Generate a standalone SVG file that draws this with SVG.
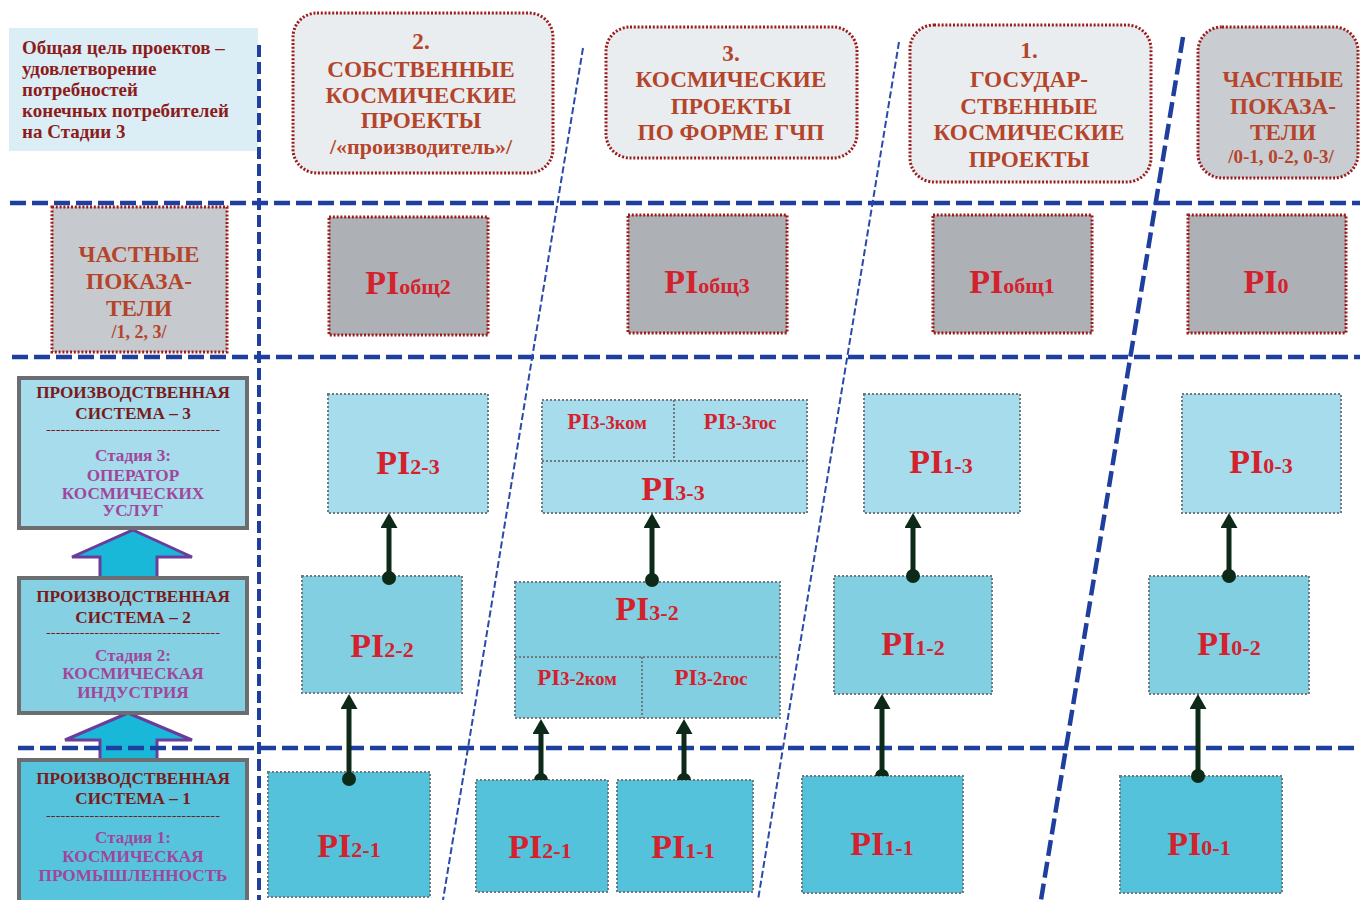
<svg xmlns="http://www.w3.org/2000/svg" width="1360" height="900" viewBox="0 0 1360 900">
  <style>
    text { font-family: "Liberation Serif", "Times New Roman", serif; font-weight: bold; }
    .goal { fill: #8c1c1c; font-size: 19px; }
    .hdr { fill: #b4452b; font-size: 23.2px; text-anchor: middle; }
    .hdr-s { fill: #b4452b; font-size: 19px; text-anchor: middle; }
    .sys { fill: #7a1a1a; font-size: 17.2px; text-anchor: middle; }
    .stage { fill: #a1469b; font-size: 17.2px; text-anchor: middle; }
    .sep { fill: #7a1a1a; font-size: 12px; font-weight: normal; }
    .pi { fill: #d3222e; text-anchor: middle; }
    .pi .big { font-size: 34px; }
    .pi .sub { font-size: 22px; }
    .pi .bigs { font-size: 23px; }
    .pi .subs { font-size: 18.5px; }
    .hbox { fill: #e9edf0; stroke: #9b1c1c; stroke-width: 3; stroke-dasharray: 2 1.8; }
    .hbox-g { fill: #c9ccd0; stroke: #9b1c1c; stroke-width: 3; stroke-dasharray: 2 1.8; }
    .gbox { fill: #adb1b6; stroke: #9b1c1c; stroke-width: 3; stroke-dasharray: 2 1.8; }
    .gbox-l { fill: #c6cacf; stroke: #9b1c1c; stroke-width: 3; stroke-dasharray: 2 1.8; }
    .r3 { fill: #a7dcec; stroke: #6f7a80; stroke-width: 2; stroke-dasharray: 2 2; }
    .r2 { fill: #82cfe2; stroke: #6f7a80; stroke-width: 2; stroke-dasharray: 2 2; }
    .r1 { fill: #53c2da; stroke: #6f7a80; stroke-width: 2; stroke-dasharray: 2 2; }
    .split { fill: none; stroke: #6f7a80; stroke-width: 2; stroke-dasharray: 2 2; }
    .sys3 { fill: #a6dcec; stroke: #6b6d70; stroke-width: 4; }
    .sys2 { fill: #85d0e3; stroke: #6b6d70; stroke-width: 4; }
    .sys1 { fill: #55c4dc; stroke: #6b6d70; stroke-width: 4; }
    .block { fill: #1ab8d8; stroke: #6a3c9c; stroke-width: 3; stroke-linejoin: miter; }
    .grid { stroke: #1f3f9f; stroke-width: 4.5; stroke-dasharray: 16 6; fill: none; }
    .gridv { stroke: #1f3f9f; stroke-width: 4; stroke-dasharray: 12 5; fill: none; }
    .thin { stroke: #2a4aaa; stroke-width: 2; stroke-dasharray: 7 3; fill: none; }
    .link { stroke: #0d2a18; stroke-width: 5; fill: none; marker-end: url(#head); }
    .dot { fill: #0d2a18; }
  </style>
  <defs>
    <marker id="head" viewBox="0 0 15 17" refX="0" refY="8.5" markerWidth="15" markerHeight="17" markerUnits="userSpaceOnUse" orient="auto">
      <path d="M0,0 L15,8.5 L0,17 Z" fill="#0d2a18"/>
    </marker>
  </defs>

  <rect width="1360" height="900" fill="#ffffff"/>

  <!-- goal note -->
  <g id="goal">
    <rect x="9" y="28" width="249" height="123" fill="#dbeef5"/>
    <text class="goal" x="22" y="54">Общая цель проектов –</text>
    <text class="goal" x="22" y="75">удовлетворение</text>
    <text class="goal" x="22" y="96">потребностей</text>
    <text class="goal" x="22" y="117">конечных потребителей</text>
    <text class="goal" x="22" y="138">на Стадии 3</text>
  </g>

  <!-- column headers -->
  <g id="hdr-own">
    <rect class="hbox" x="293" y="13" width="260" height="160" rx="24"/>
    <text class="hdr" x="421" y="49">2.</text>
    <text class="hdr" x="421" y="77">СОБСТВЕННЫЕ</text>
    <text class="hdr" x="421" y="103">КОСМИЧЕСКИЕ</text>
    <text class="hdr" x="421" y="128">ПРОЕКТЫ</text>
    <text class="hdr" x="421" y="154" style="font-size:22px">/«производитель»/</text>
  </g>
  <g id="hdr-ppp">
    <rect class="hbox" x="606" y="27" width="251" height="131" rx="24"/>
    <text class="hdr" x="731" y="61">3.</text>
    <text class="hdr" x="731" y="87">КОСМИЧЕСКИЕ</text>
    <text class="hdr" x="731" y="114">ПРОЕКТЫ</text>
    <text class="hdr" x="731" y="140">ПО ФОРМЕ ГЧП</text>
  </g>
  <g id="hdr-state">
    <rect class="hbox" x="910" y="25" width="241" height="157" rx="24"/>
    <text class="hdr" x="1029" y="58">1.</text>
    <text class="hdr" x="1029" y="87">ГОСУДАР-</text>
    <text class="hdr" x="1029" y="114">СТВЕННЫЕ</text>
    <text class="hdr" x="1029" y="140">КОСМИЧЕСКИЕ</text>
    <text class="hdr" x="1029" y="167">ПРОЕКТЫ</text>
  </g>
  <g id="hdr-partial">
    <rect class="hbox-g" x="1198" y="27" width="160" height="151" rx="24"/>
    <text class="hdr" x="1283" y="87">ЧАСТНЫЕ</text>
    <text class="hdr" x="1283" y="114">ПОКАЗА-</text>
    <text class="hdr" x="1283" y="140">ТЕЛИ</text>
    <text class="hdr-s" x="1281" y="163">/0-1, 0-2, 0-3/</text>
  </g>

  <!-- aggregate indicators row -->
  <g id="partial-left">
    <rect class="gbox-l" x="52" y="207" width="175" height="145"/>
    <text class="hdr" x="139" y="262">ЧАСТНЫЕ</text>
    <text class="hdr" x="139" y="289">ПОКАЗА-</text>
    <text class="hdr" x="139" y="316">ТЕЛИ</text>
    <text class="hdr-s" x="139" y="338" style="font-size:18px">/1, 2, 3/</text>
  </g>
  <g id="pi-obsh2">
    <rect class="gbox" x="329" y="217" width="159" height="118"/>
    <text class="pi" x="408" y="294"><tspan class="big">PI</tspan><tspan class="sub">общ2</tspan></text>
  </g>
  <g id="pi-obsh3">
    <rect class="gbox" x="628" y="215" width="159" height="118"/>
    <text class="pi" x="707" y="293"><tspan class="big">PI</tspan><tspan class="sub">общ3</tspan></text>
  </g>
  <g id="pi-obsh1">
    <rect class="gbox" x="933" y="215" width="159" height="118"/>
    <text class="pi" x="1012" y="293"><tspan class="big">PI</tspan><tspan class="sub">общ1</tspan></text>
  </g>
  <g id="pi-0">
    <rect class="gbox" x="1188" y="215" width="158" height="118"/>
    <text class="pi" x="1266" y="293"><tspan class="big">PI</tspan><tspan class="sub">0</tspan></text>
  </g>

  <!-- production systems column -->
  <g id="sys-arrows">
    <path class="block" d="M133,530 L192,557 L157,557 L157,582 L100,582 L100,557 L72,557 Z"/>
    <path class="block" d="M128,713 L192,740 L157,740 L157,764 L100,764 L100,740 L65,740 Z"/>
  </g>
  <g id="sys-3">
    <rect class="sys3" x="19" y="378" width="228" height="150"/>
    <text class="sys" x="133" y="398">ПРОИЗВОДСТВЕННАЯ</text>
    <text class="sys" x="133" y="419">СИСТЕМА –  3</text>
    <text class="sep" x="46" y="434" textLength="174" lengthAdjust="spacingAndGlyphs">------------------------------------</text>
    <text class="stage" x="133" y="461">Стадия 3:</text>
    <text class="stage" x="133" y="481">ОПЕРАТОР</text>
    <text class="stage" x="133" y="499">КОСМИЧЕСКИХ</text>
    <text class="stage" x="133" y="516">УСЛУГ</text>
  </g>
  <g id="sys-2">
    <rect class="sys2" x="19" y="578" width="228" height="135"/>
    <text class="sys" x="133" y="602">ПРОИЗВОДСТВЕННАЯ</text>
    <text class="sys" x="133" y="623">СИСТЕМА –  2</text>
    <text class="sep" x="46" y="637" textLength="174" lengthAdjust="spacingAndGlyphs">------------------------------------</text>
    <text class="stage" x="133" y="661">Стадия 2:</text>
    <text class="stage" x="133" y="679">КОСМИЧЕСКАЯ</text>
    <text class="stage" x="133" y="698">ИНДУСТРИЯ</text>
  </g>
  <g id="sys-1">
    <rect class="sys1" x="19" y="760" width="228" height="150"/>
    <text class="sys" x="133" y="784">ПРОИЗВОДСТВЕННАЯ</text>
    <text class="sys" x="133" y="804">СИСТЕМА –  1</text>
    <text class="sep" x="46" y="820" textLength="174" lengthAdjust="spacingAndGlyphs">------------------------------------</text>
    <text class="stage" x="133" y="843">Стадия 1:</text>
    <text class="stage" x="133" y="862">КОСМИЧЕСКАЯ</text>
    <text class="stage" x="133" y="881">ПРОМЫШЛЕННОСТЬ</text>
  </g>

  <!-- own projects column -->
  <g id="pi-2-3">
    <rect class="r3" x="328" y="394" width="160" height="119"/>
    <text class="pi" x="408" y="474"><tspan class="big">PI</tspan><tspan class="sub">2-3</tspan></text>
  </g>
  <g id="pi-2-2">
    <rect class="r2" x="302" y="576" width="160" height="117"/>
    <text class="pi" x="382" y="657"><tspan class="big">PI</tspan><tspan class="sub">2-2</tspan></text>
  </g>
  <g id="pi-2-1">
    <rect class="r1" x="268" y="772" width="162" height="125"/>
    <text class="pi" x="349" y="857"><tspan class="big">PI</tspan><tspan class="sub">2-1</tspan></text>
  </g>

  <!-- PPP projects column -->
  <g id="pi-3-3">
    <rect class="r3" x="542" y="400" width="265" height="113"/>
    <path class="split" d="M542,461 H807 M674,400 V461"/>
    <text class="pi" x="607" y="429"><tspan class="bigs">PI</tspan><tspan class="subs">3-3ком</tspan></text>
    <text class="pi" x="740" y="429"><tspan class="bigs">PI</tspan><tspan class="subs">3-3гос</tspan></text>
    <text class="pi" x="673" y="500"><tspan class="big">PI</tspan><tspan class="sub">3-3</tspan></text>
  </g>
  <g id="pi-3-2">
    <rect class="r2" x="515" y="582" width="265" height="136"/>
    <path class="split" d="M515,657 H780 M642,657 V718"/>
    <text class="pi" x="647" y="620"><tspan class="big">PI</tspan><tspan class="sub">3-2</tspan></text>
    <text class="pi" x="577" y="685"><tspan class="bigs">PI</tspan><tspan class="subs">3-2ком</tspan></text>
    <text class="pi" x="711" y="685"><tspan class="bigs">PI</tspan><tspan class="subs">3-2гос</tspan></text>
  </g>
  <g id="pi-2-1-ppp">
    <rect class="r1" x="476" y="780" width="132" height="112"/>
    <text class="pi" x="540" y="858"><tspan class="big">PI</tspan><tspan class="sub">2-1</tspan></text>
  </g>
  <g id="pi-1-1-ppp">
    <rect class="r1" x="617" y="780" width="136" height="112"/>
    <text class="pi" x="683" y="858"><tspan class="big">PI</tspan><tspan class="sub">1-1</tspan></text>
  </g>

  <!-- state projects column -->
  <g id="pi-1-3">
    <rect class="r3" x="864" y="394" width="156" height="119"/>
    <text class="pi" x="941" y="473"><tspan class="big">PI</tspan><tspan class="sub">1-3</tspan></text>
  </g>
  <g id="pi-1-2">
    <rect class="r2" x="834" y="576" width="158" height="118"/>
    <text class="pi" x="913" y="655"><tspan class="big">PI</tspan><tspan class="sub">1-2</tspan></text>
  </g>
  <g id="pi-1-1">
    <rect class="r1" x="802" y="776" width="161" height="117"/>
    <text class="pi" x="882" y="855"><tspan class="big">PI</tspan><tspan class="sub">1-1</tspan></text>
  </g>

  <!-- partial indicators column -->
  <g id="pi-0-3">
    <rect class="r3" x="1182" y="394" width="159" height="119"/>
    <text class="pi" x="1261" y="473"><tspan class="big">PI</tspan><tspan class="sub">0-3</tspan></text>
  </g>
  <g id="pi-0-2">
    <rect class="r2" x="1149" y="576" width="160" height="118"/>
    <text class="pi" x="1229" y="655"><tspan class="big">PI</tspan><tspan class="sub">0-2</tspan></text>
  </g>
  <g id="pi-0-1">
    <rect class="r1" x="1120" y="776" width="162" height="117"/>
    <text class="pi" x="1199" y="855"><tspan class="big">PI</tspan><tspan class="sub">0-1</tspan></text>
  </g>

  <!-- zone boundaries -->
  <g id="grid">
    <line class="grid" x1="10" y1="203" x2="1360" y2="203"/>
    <line class="grid" x1="12" y1="357" x2="1360" y2="357"/>
    <line class="grid" x1="18" y1="748" x2="1360" y2="748"/>
    <line class="gridv" x1="259" y1="45" x2="259" y2="900"/>
    <line class="thin" x1="583" y1="48" x2="443" y2="900"/>
    <line class="thin" x1="899" y1="42" x2="758" y2="900"/>
    <line class="grid" x1="1183" y1="37" x2="1041" y2="900"/>
  </g>

  <!-- connectors -->
  <g id="connectors">
    <line class="link" x1="349" y1="779" x2="349" y2="709"/>
    <circle class="dot" cx="349" cy="779" r="7"/>
    <line class="link" x1="389" y1="578" x2="389" y2="528"/>
    <circle class="dot" cx="389" cy="578" r="7"/>

    <line class="link" x1="541" y1="780" x2="541" y2="734"/>
    <path class="dot" d="M534,780 A7,7 0 0 1 548,780 Z"/>
    <line class="link" x1="684" y1="780" x2="684" y2="734"/>
    <path class="dot" d="M677,780 A7,7 0 0 1 691,780 Z"/>
    <line class="link" x1="652" y1="580" x2="652" y2="528"/>
    <circle class="dot" cx="652" cy="580" r="7"/>

    <line class="link" x1="882" y1="776" x2="882" y2="709"/>
    <path class="dot" d="M875,776 A7,7 0 0 1 889,776 Z"/>
    <line class="link" x1="913" y1="576" x2="913" y2="528"/>
    <circle class="dot" cx="913" cy="576" r="7"/>

    <line class="link" x1="1198" y1="776" x2="1198" y2="709"/>
    <circle class="dot" cx="1198" cy="776" r="7"/>
    <line class="link" x1="1229" y1="576" x2="1229" y2="528"/>
    <circle class="dot" cx="1229" cy="576" r="7"/>
  </g>
</svg>
